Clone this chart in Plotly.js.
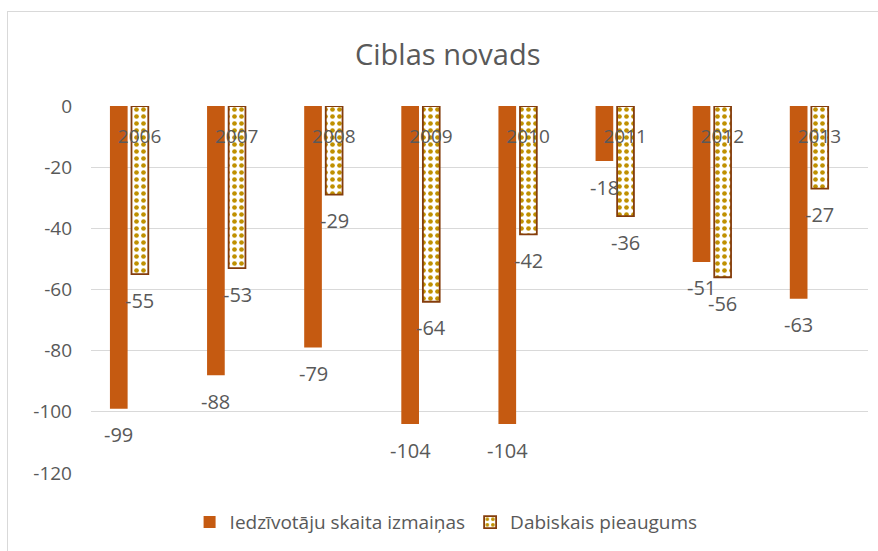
<!DOCTYPE html>
<html>
<head>
<meta charset="utf-8">
<script src="https://cdn.plot.ly/plotly-3.0.1.min.js"></script>
<style>
html,body{margin:0;padding:0;background:#fff;}
#chart{position:absolute;left:0;top:0;width:878px;height:551px;}
#frame{position:absolute;left:7px;top:11px;width:900px;height:600px;border:1.5px solid #D9D9D9;pointer-events:none;}
</style>
</head>
<body>
<div id="chart"></div>
<div id="frame"></div>
<script>
const years = ['2006','2007','2008','2009','2010','2011','2012','2013'];
const populationChange = [-99, -88, -79, -104, -104, -18, -51, -63];
const naturalIncrease = [-55, -53, -29, -64, -42, -36, -56, -27];
const seriesNames = ['Iedzīvotāju skaita izmaiņas', 'Dabiskais pieaugums'];
const yTicks = [0, -20, -40, -60, -80, -100, -120];

const textGray = '#595959';
const fontFam = '"Open Sans", "Noto Sans", sans-serif';

// bar placement within each category (fraction of category width)
const barSpec = [
  {offset: -0.305, width: 0.182},
  {offset: -0.083, width: 0.173}
];

const traces = [
  {
    type: 'bar',
    name: seriesNames[0],
    x: years,
    y: populationChange,
    offset: barSpec[0].offset,
    width: barSpec[0].width,
    marker: {color: '#C55A11'},
    hoverinfo: 'x+y'
  },
  {
    type: 'bar',
    name: seriesNames[1],
    x: years,
    y: naturalIncrease,
    offset: barSpec[1].offset,
    width: barSpec[1].width,
    marker: {
      color: '#FFFFFF',
      line: {color: '#843C0C', width: 1.8},
      pattern: {shape: '.', fgcolor: '#BF9000', bgcolor: '#FFFFFF', size: 7, solidity: 0.35, fillmode: 'replace'}
    },
    hoverinfo: 'x+y'
  }
];

// data labels, placed through the axes from the data arrays
// (x given as the category's serial index so numeric-looking names are not read as numbers)
const catPx = 777 / years.length;
function labelsFor(values, spec) {
  const centerShift = (spec.offset + spec.width / 2) * catPx;
  return values.map((v, i) => ({
    x: i, y: v, xref: 'x', yref: 'y',
    text: String(v), showarrow: false,
    xanchor: 'center', yanchor: 'middle',
    xshift: centerShift, yshift: -26,
    font: {family: fontFam, size: 20, color: textGray}
  }));
}
const annotations = labelsFor(populationChange, barSpec[0]).concat(labelsFor(naturalIncrease, barSpec[1]));

const layout = {
  width: 878,
  height: 551,
  margin: {l: 91, r: 10, t: 106, b: 78},
  paper_bgcolor: '#FFFFFF',
  plot_bgcolor: '#FFFFFF',
  title: {
    text: 'Ciblas novads',
    font: {family: fontFam, size: 29, color: textGray},
    x: 0.51, xanchor: 'center',
    y: 0.9, yanchor: 'middle'
  },
  barmode: 'overlay',
  showlegend: true,
  legend: {
    orientation: 'h',
    x: 0.457, xanchor: 'center',
    y: -0.134, yanchor: 'middle',
    font: {family: fontFam, size: 19, color: textGray},
    itemwidth: 30
  },
  annotations: annotations,
  xaxis: {
    type: 'category',
    range: [-0.5, years.length - 0.5],
    side: 'top',
    ticks: '',
    ticklabelstandoff: -42,
    showgrid: false,
    showline: false,
    zeroline: false,
    tickfont: {family: fontFam, size: 19, color: textGray}
  },
  yaxis: {
    range: [-120, 0],
    tickvals: yTicks,
    ticktext: yTicks.map(v => String(v)),
    showgrid: true,
    gridcolor: '#D9D9D9',
    gridwidth: 1,
    zeroline: false,
    showline: false,
    ticks: '',
    ticklabelstandoff: 18,
    tickfont: {family: fontFam, size: 19, color: textGray}
  },
  font: {family: fontFam, color: textGray}
};

Plotly.newPlot('chart', traces, layout, {displayModeBar: false, staticPlot: true});
</script>
</body>
</html>
